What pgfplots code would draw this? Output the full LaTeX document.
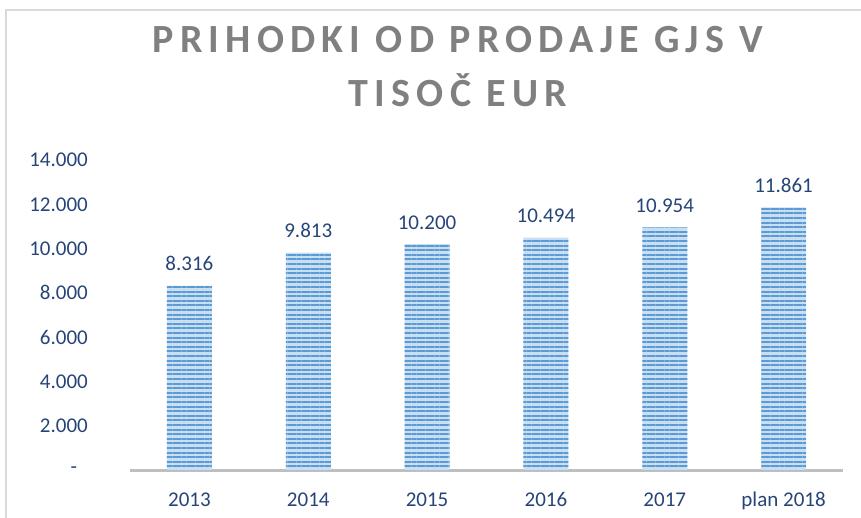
\documentclass[border=0pt]{standalone}
\usepackage{pgfplots}
\pgfplotsset{compat=1.18}
\usepackage{fontspec}
\setmainfont{Carlito}
\usetikzlibrary{patterns.meta}
\definecolor{lbl}{HTML}{264478}
\definecolor{ttl}{HTML}{808080}
\definecolor{barblue}{HTML}{5B9BD5}
\definecolor{barlight}{HTML}{C9DEF1}
\definecolor{framec}{HTML}{D9D9D9}
\definecolor{axisgray}{HTML}{BFBFBF}
\begin{document}
\begin{tikzpicture}[x=1pt,y=1pt]
\path[use as bounding box] (0,0) rectangle (861,517);
\draw[framec, line width=1.5pt] (6,-5) -- (6,507) -- (870,507);
\node[anchor=base, inner sep=0pt, text=ttl, font=\fontsize{40}{48}\selectfont\bfseries\addfontfeatures{LetterSpace=15.5}] at (458,464) {PRIHODKI OD PRODAJE GJS V};
\node[anchor=base, inner sep=0pt, text=ttl, font=\fontsize{40}{48}\selectfont\bfseries\addfontfeatures{LetterSpace=15.5}] at (458,410) {TISOČ EUR};
\begin{axis}[
  at={(130pt,47pt)}, anchor=south west,
  scale only axis, width=713pt, height=310pt,
  xmin=-0.5, xmax=5.5, ymin=0, ymax=14000,
  scaled y ticks=false,
  axis x line*=bottom, axis y line*=left,
  y axis line style={draw=none},
  x axis line style={axisgray, line width=3pt, -},
  major tick length=0pt, tick style={draw=none},
  xtick={0,1,2,3,4,5},
  xticklabels={2013,2014,2015,2016,2017,plan 2018},
  ytick={0,2000,4000,6000,8000,10000,12000,14000},
  yticklabels={-\hphantom{0},2.000,4.000,6.000,8.000,10.000,12.000,14.000},
  yticklabel style={anchor=east, inner sep=0pt, xshift=-42pt, text=lbl, font=\fontsize{21}{25}\selectfont},
  xticklabel style={anchor=base, inner sep=0pt, yshift=-36pt, text=lbl, font=\fontsize{21}{25}\selectfont},
  ybar, bar width=45pt,
  point meta=explicit symbolic,
  nodes near coords,
  every node near coord/.append style={anchor=base, inner sep=0pt, yshift=15pt, text=lbl, font=\fontsize{21}{25}\selectfont},
  clip=false,
]
\addplot[fill=barlight, draw=none, postaction={pattern={Lines[angle=0,distance=4.6pt,line width=2pt]}, pattern color=barblue}]
  coordinates {(0,8316)[8.316] (1,9813)[9.813] (2,10200)[10.200] (3,10494)[10.494] (4,10954)[10.954] (5,11861)[11.861]};
\end{axis}
\end{tikzpicture}
\end{document}
